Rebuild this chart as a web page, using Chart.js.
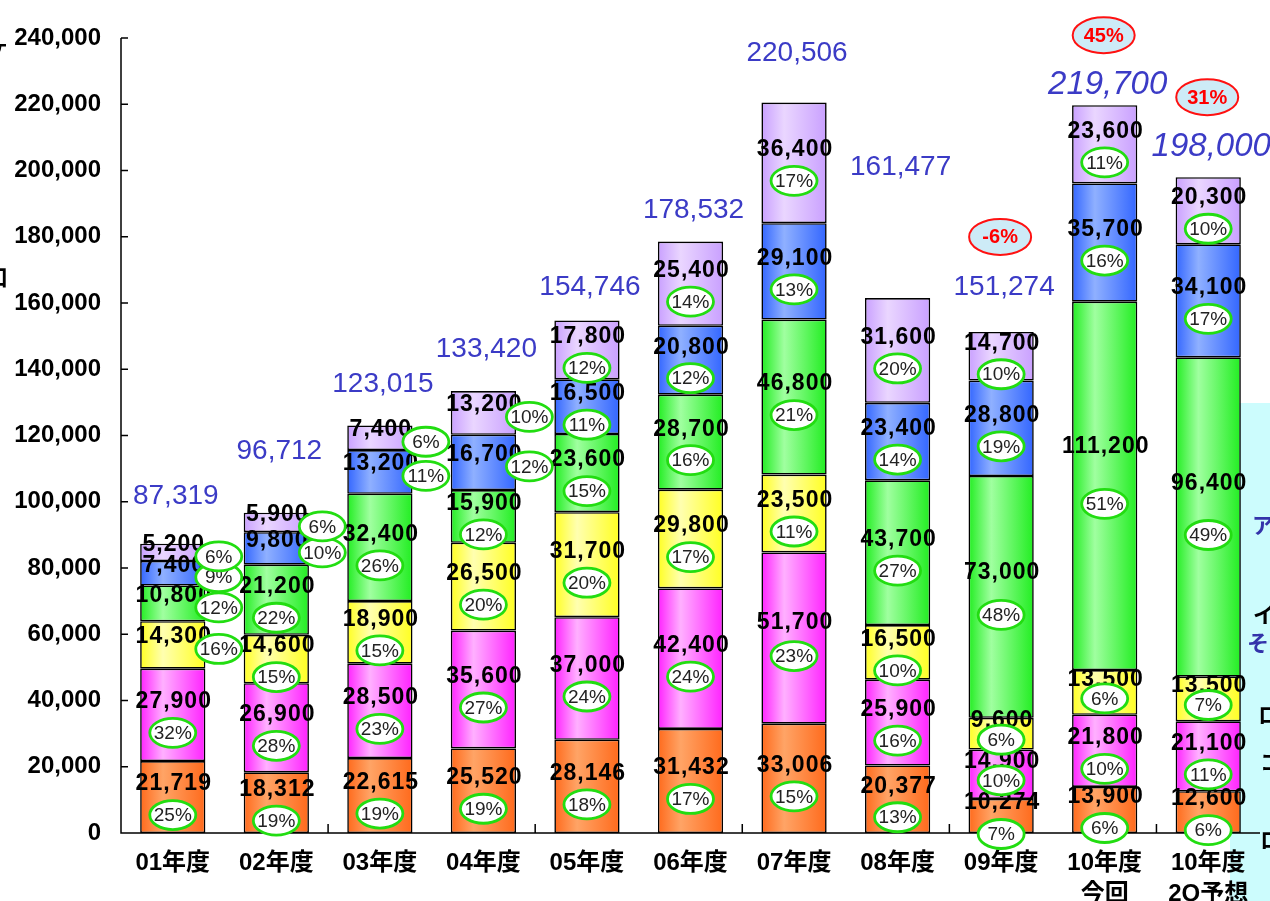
<!DOCTYPE html>
<html>
<head>
<meta charset="utf-8">
<script src="https://cdn.jsdelivr.net/npm/chart.js@4"></script>
<style>
  html, body { margin: 0; padding: 0; background: #fff; overflow: hidden; }
</style>
</head>
<body>
<canvas id="myChart" width="1270" height="901" style="width:1270px;height:901px;display:block"></canvas>
<script>
// categories
var years = ["01年度", "02年度", "03年度", "04年度", "05年度", "06年度", "07年度", "08年度", "09年度", ["10年度", "今回"], ["10年度", "2Q予想"]];

// series values, bottom to top
var orangeVals = [21719, 18312, 22615, 25520, 28146, 31432, 33006, 20377, 10274, 13900, 12600];
var magentaVals = [27900, 26900, 28500, 35600, 37000, 42400, 51700, 25900, 14900, 21800, 21100];
var yellowVals = [14300, 14600, 18900, 26500, 31700, 29800, 23500, 16500, 9600, 13500, 13500];
var greenVals = [10800, 21200, 32400, 15900, 23600, 28700, 46800, 43700, 73000, 111200, 96400];
var blueVals = [7400, 9800, 13200, 16700, 16500, 20800, 29100, 23400, 28800, 35700, 34100];
var lavenderVals = [5200, 5900, 7400, 13200, 17800, 25400, 36400, 31600, 14700, 23600, 20300];

// share of each series in the year's total (%)
var orangePct = [25, 19, 19, 19, 18, 17, 15, 13, 7, 6, 6];
var magentaPct = [32, 28, 23, 27, 24, 24, 23, 16, 10, 10, 11];
var yellowPct = [16, 15, 15, 20, 20, 17, 11, 10, 6, 6, 7];
var greenPct = [12, 22, 26, 12, 15, 16, 21, 27, 48, 51, 49];
var bluePct = [9, 10, 11, 12, 11, 12, 13, 14, 19, 16, 17];
var lavenderPct = [6, 6, 6, 10, 12, 14, 17, 20, 10, 11, 10];

var totals = [87319, 96712, 123015, 133420, 154746, 178532, 220506, 161477, 151274, 219700, 198000];
var growth = [null, null, null, null, null, null, null, null, "-6%", "45%", "31%"];

var yMax = 240000;
var yStep = 20000;

// layout helpers (not data)
var BAR_PCT = 0.63;
var outsideCount = [4, 2, 2, 2, 0, 0, 0, 0, 0, 0, 0];   // top segments whose % oval sits right of the bar
var totalLift = [47, 61, 41, 42, 33, 31, 49, 131, 45, 20, 30];
var italicTotal = [false, false, false, false, false, false, false, false, false, true, true];

function fmt(v) { return v.toLocaleString('en-US'); }

function grad(edge, mid) {
    return function (c) {
        var chart = c.chart;
        var area = chart.chartArea;
        if (!area || c.dataIndex === undefined) return edge;
        var x = chart.scales.x.getPixelForValue(c.dataIndex);
        var half = (area.right - area.left) / years.length * BAR_PCT / 2;
        var g = chart.ctx.createLinearGradient(x - half, 0, x + half, 0);
        g.addColorStop(0, edge);
        g.addColorStop(0.35, mid);
        g.addColorStop(1, edge);
        return g;
    };
}

function oval(ctx, x, y, rx, ry, fill, stroke, lw) {
    ctx.beginPath();
    ctx.ellipse(x, y, rx, ry, 0, 0, Math.PI * 2);
    ctx.fillStyle = fill;
    ctx.fill();
    ctx.lineWidth = lw;
    ctx.strokeStyle = stroke;
    ctx.stroke();
}

var pctSets = [orangePct, magentaPct, yellowPct, greenPct, bluePct, lavenderPct];

var overlay = {
    id: 'overlay',
    beforeDraw: function (chart) {
        var ctx = chart.ctx;
        ctx.save();
        ctx.fillStyle = '#ccfcfd';
        ctx.fillRect(1230, 403, 60, 520);
        ctx.textBaseline = 'middle';
        ctx.textAlign = 'left';
        ctx.font = 'bold 22px "Noto Sans CJK JP"';
        ctx.fillStyle = '#3333aa';
        ctx.fillText('アジア', 1252, 525);
        ctx.fillText('その他', 1247, 643);
        ctx.fillStyle = '#000';
        ctx.fillText('イ', 1253, 615);
        ctx.fillText('ロ', 1258, 715);
        ctx.fillText('コ', 1260, 762);
        ctx.fillText('ロ', 1260, 840);
        // left edge, cut off
        ctx.textAlign = 'right';
        ctx.fillText('ヶ', 9, 46);
        ctx.fillText('口', 8, 277);
        ctx.restore();
    },
    afterDatasetsDraw: function (chart) {
        var ctx = chart.ctx;
        var area = chart.chartArea;
        var xs = chart.scales.x, ys = chart.scales.y;
        var catW = (area.right - area.left) / years.length;
        ctx.save();

        // axes
        ctx.strokeStyle = '#000';
        ctx.lineWidth = 1.5;
        ctx.beginPath();
        ctx.moveTo(area.left, ys.getPixelForValue(yMax));
        ctx.lineTo(area.left, area.bottom);
        ctx.lineTo(area.right, area.bottom);
        for (var v = 0; v <= yMax; v += yStep) {
            var py = ys.getPixelForValue(v);
            ctx.moveTo(area.left, py);
            ctx.lineTo(area.left + 7, py);
        }
        for (var k = 2; k < years.length; k += 2) {
            var px = area.left + k * catW;
            ctx.moveTo(px, area.bottom);
            ctx.lineTo(px, area.bottom - 9);
        }
        ctx.stroke();

        // segment value labels
        var metas = chart.data.datasets.map(function (d, i) { return chart.getDatasetMeta(i); });
        var ovals = [];
        ctx.textAlign = 'center';
        ctx.textBaseline = 'middle';
        ctx.fillStyle = '#000';
        ctx.font = 'bold 23px "Liberation Sans", Arial, sans-serif';
        ctx.letterSpacing = '1px';
        metas.forEach(function (meta, di) {
            meta.data.forEach(function (el, j) {
                var p = el.getProps(['x', 'y', 'base'], true);
                var h = p.base - p.y;
                var mid = (p.y + p.base) / 2;
                var outside = di >= metas.length - outsideCount[j];
                var small = (di === 1 && h < 50) || (di === 2 && h < 46);
                var ly, ox, oy;
                if (outside) {
                    ly = mid - 8;
                    ox = p.x + 46;
                    oy = mid + 4;
                } else {
                    ly = mid - 13 - Math.max(0, h - 150) * 0.12;
                    ox = p.x;
                    oy = mid + (small ? 6 : 18);
                }
                ctx.fillText(fmt(chart.data.datasets[di].data[j]), p.x + 1, ly);
                ovals.push([ox, oy, pctSets[di][j] + '%']);
            });
        });
        ctx.letterSpacing = '0px';

        // % ovals
        ctx.font = '19px "Liberation Sans", Arial, sans-serif';
        ovals.forEach(function (o) {
            oval(ctx, o[0], o[1], 23, 14.5, '#fff', '#22dd11', 2.8);
            ctx.fillStyle = '#222';
            ctx.fillText(o[2], o[0], o[1] + 1);
        });

        // totals and growth
        totals.forEach(function (t, j) {
            var top = ys.getPixelForValue(t);
            var x = xs.getPixelForValue(j) + 3;
            var ty = top - totalLift[j];
            ctx.fillStyle = '#3b3bc6';
            ctx.font = italicTotal[j] ? 'italic 33px "Liberation Sans", Arial, sans-serif' : '28px "Liberation Sans", Arial, sans-serif';
            ctx.fillText(fmt(t), x, ty);
            if (growth[j]) {
                oval(ctx, x - 4, ty - 50, 31, 18, '#cdebf7', '#ff1111', 2);
                ctx.fillStyle = '#ff0000';
                ctx.font = 'bold 20px "Liberation Sans", Arial, sans-serif';
                ctx.fillText(growth[j], x - 4, ty - 49);
            }
        });
        ctx.restore();
    }
};

var common = { borderColor: '#000', borderWidth: 1.6, borderSkipped: false, barPercentage: BAR_PCT, categoryPercentage: 1 };

var ctx = document.getElementById('myChart').getContext('2d');
var chart = new Chart(ctx, {
    type: 'bar',
    data: {
        labels: years,
        datasets: [
            Object.assign({ label: 'orange', data: orangeVals, backgroundColor: grad('#ff6a1c', '#ffa466') }, common),
            Object.assign({ label: 'magenta', data: magentaVals, backgroundColor: grad('#ff22ff', '#ffb0ff') }, common),
            Object.assign({ label: 'yellow', data: yellowVals, backgroundColor: grad('#ffff22', '#ffffb0') }, common),
            Object.assign({ label: 'green', data: greenVals, backgroundColor: grad('#22ee22', '#a0ffa0') }, common),
            Object.assign({ label: 'blue', data: blueVals, backgroundColor: grad('#3366ff', '#8fb0ff') }, common),
            Object.assign({ label: 'lavender', data: lavenderVals, backgroundColor: grad('#c9a0ff', '#ead6ff') }, common)
        ]
    },
    options: {
        responsive: false,
        animation: false,
        devicePixelRatio: 1,
        layout: { padding: { top: 38, right: 10, left: 0, bottom: 0 } },
        plugins: { legend: { display: false }, tooltip: { enabled: false } },
        scales: {
            x: {
                stacked: true,
                grid: { display: false, drawTicks: false },
                border: { display: false },
                ticks: {
                    color: '#000',
                    font: { family: '"Liberation Sans", "Noto Sans CJK JP", sans-serif', size: 24, weight: 'bold', lineHeight: 1.3 },
                    padding: 15,
                    maxRotation: 0,
                    autoSkip: false
                },
                afterFit: function (s) { s.height = 68; }
            },
            y: {
                stacked: true,
                min: 0,
                max: yMax,
                grid: { display: false, drawTicks: false },
                border: { display: false },
                ticks: {
                    stepSize: yStep,
                    color: '#000',
                    padding: 20,
                    font: { family: '"Liberation Sans", Arial, sans-serif', size: 24, weight: 'bold' },
                    callback: function (v) { return fmt(v); }
                },
                afterFit: function (s) { s.width = 121; }
            }
        }
    },
    plugins: [overlay]
});
</script>
</body>
</html>
